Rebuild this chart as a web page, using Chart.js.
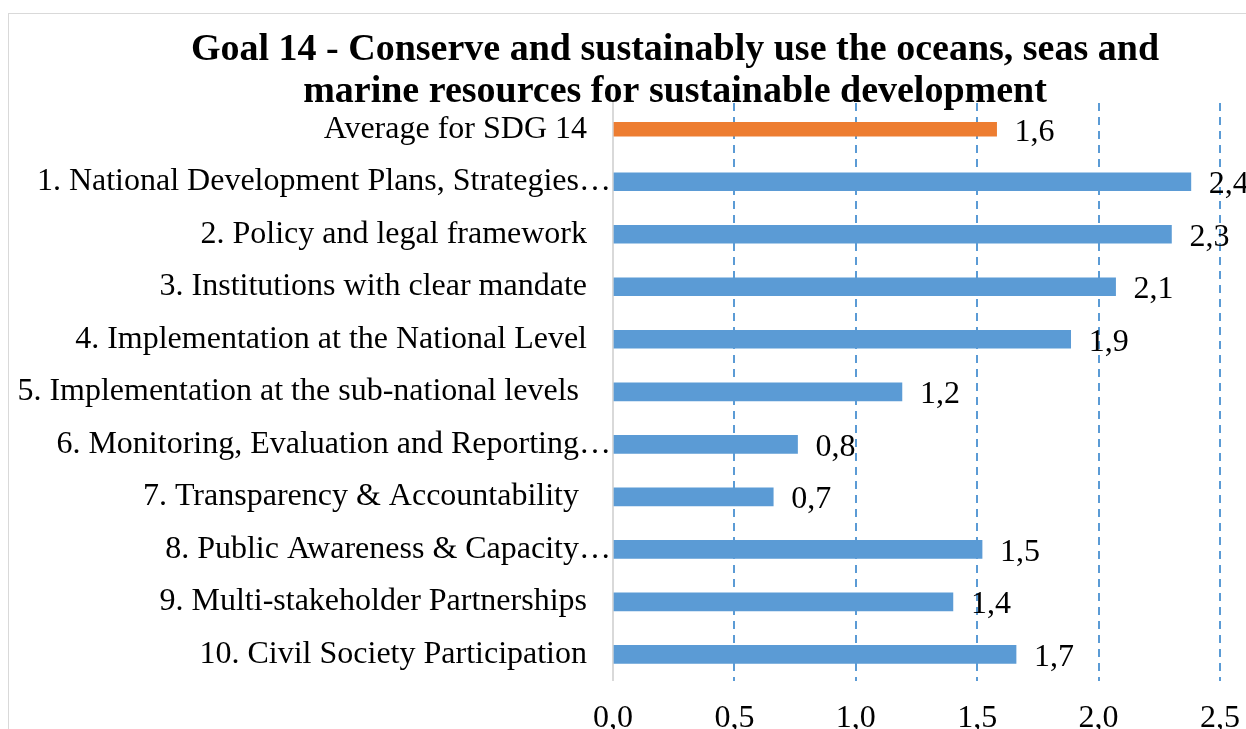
<!DOCTYPE html>
<html lang="en">

<head>
  <meta charset="UTF-8">
  <title>Goal 14</title>
  <script src="https://cdn.jsdelivr.net/npm/chart.js"></script>
  <style>
    html, body { margin: 0; padding: 0; background: #fff; overflow: hidden; }
    .moldura {
      position: absolute;
      left: 8px;
      top: 13px;
      width: 1332px;
      height: 743px;
      border: 1px solid #d9d9d9;
    }
  </style>
</head>

<body>
  <div class="moldura">
    <canvas id="grafico"></canvas>
  </div>
</body>

</html>
<script>
  var titulo = ['Goal 14 - Conserve and sustainably use the oceans, seas and',
                'marine resources for sustainable development'];
  var categorias = [
    'Average for SDG 14',
    '1. National Development Plans, Strategies…',
    '2. Policy and legal framework',
    '3. Institutions with clear mandate',
    '4. Implementation at the National Level',
    '5. Implementation at the sub-national levels ',
    '6. Monitoring, Evaluation and Reporting…',
    '7. Transparency & Accountability ',
    '8. Public Awareness & Capacity…',
    '9. Multi-stakeholder Partnerships',
    '10. Civil Society Participation'
  ];
  var mediaSDG = [1.58, null, null, null, null, null, null, null, null, null, null];
  var notas = [null, 2.38, 2.30, 2.07, 1.885, 1.19, 0.76, 0.66, 1.52, 1.40, 1.66];
  var ticksX = [0, 0.5, 1, 1.5, 2, 2.5];

  var fonte = 'Liberation Serif, Times New Roman, serif';

  // titulo centrado na moldura (fora da area do grafico)
  var tituloPlugin = {
    id: 'tituloPlugin',
    afterDraw: function (chart) {
      var ctx = chart.ctx;
      ctx.save();
      ctx.font = 'bold 38px ' + fonte;
      ctx.fillStyle = '#000';
      ctx.textAlign = 'center';
      ctx.textBaseline = 'alphabetic';
      ctx.fillText(titulo[0], 666, 46);
      ctx.fillText(titulo[1], 666, 88);
      ctx.restore();
    }
  };

  // rotulos de valor a direita das barras
  var rotulos = {
    id: 'rotulos',
    afterDatasetsDraw: function (chart) {
      var ctx = chart.ctx;
      ctx.save();
      ctx.font = '32px ' + fonte;
      ctx.fillStyle = '#000';
      ctx.textAlign = 'left';
      ctx.textBaseline = 'middle';
      chart.data.datasets.forEach(function (ds, i) {
        chart.getDatasetMeta(i).data.forEach(function (el, j) {
          var v = ds.data[j];
          if (v == null) return;
          ctx.fillText(v.toFixed(1).replace('.', ','), el.x + 18, el.y + 3);
        });
      });
      ctx.restore();
    }
  };

  new Chart(document.getElementById('grafico'), {
    type: 'bar',
    data: {
      labels: categorias,
      datasets: [{
        label: 'Average',
        data: mediaSDG,
        backgroundColor: '#ED7D31',
        barThickness: 14,
        grouped: false
      }, {
        label: 'Pillars',
        data: notas,
        backgroundColor: '#5B9BD5',
        barThickness: 18,
        grouped: false
      }]
    },
    options: {
      indexAxis: 'y',
      responsive: true,
      maintainAspectRatio: false,
      animation: false,
      layout: { padding: { left: 0, right: 121, top: 89, bottom: 0 } },
      plugins: {
        legend: { display: false },
        tooltip: { enabled: false },
        title: { display: false }
      },
      scales: {
        x: {
          min: 0,
          max: 2.5,
          afterBuildTicks: function (scale) {
            scale.ticks = ticksX.map(function (v) { return { value: v }; });
          },
          ticks: {
            color: '#000',
            font: { family: fonte, size: 32 },
            padding: 19,
            callback: function (v) { return Number(v).toFixed(1).replace('.', ','); }
          },
          grid: {
            drawTicks: false,
            lineWidth: 2,
            color: function (c) { return c.tick && c.tick.value === 0 ? 'rgba(0,0,0,0)' : '#5B9BD5'; }
          },
          border: { display: false, dash: [8, 6] }
        },
        y: {
          afterFit: function (scale) { scale.width = 613 - 9; },
          ticks: {
            autoSkip: false,
            color: '#000',
            padding: -6,
            font: { family: fonte, size: 32 },
            callback: function (v) {
              var t = this.getLabelForValue(v);
              return t.endsWith('…') ? t : t + '   ';
            }
          },
          grid: { display: false },
          border: { display: true, color: '#d9d9d9', width: 2 }
        }
      }
    },
    plugins: [rotulos, tituloPlugin]
  });
</script>
